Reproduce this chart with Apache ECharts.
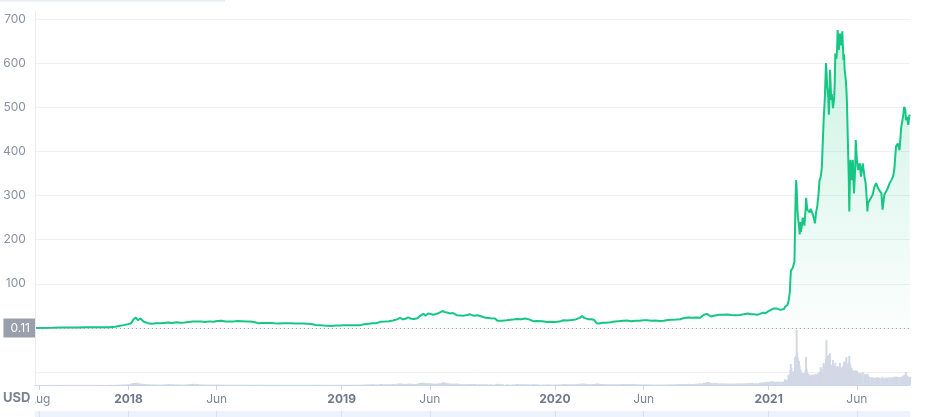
<!DOCTYPE html>
<html>
<head>
<meta charset="utf-8">
<script src="https://cdn.jsdelivr.net/npm/echarts@6/dist/echarts.min.js"></script>
<style>
html,body{margin:0;padding:0;background:#fff;}
#chart{width:930px;height:417px;}
</style>
</head>
<body>
<div id="chart"></div>
<script>
// ---- data ----
const dates = [
  '2017-07-25','2017-08-08','2017-08-22','2017-09-05','2017-09-19','2017-10-03','2017-10-17','2017-10-31','2017-11-14','2017-11-28','2017-12-08','2017-12-16','2017-12-22','2017-12-29',
  '2018-01-04','2018-01-08','2018-01-12','2018-01-16','2018-01-20','2018-01-26',
  '2018-02-02','2018-02-09','2018-02-16','2018-02-23',
  '2018-03-02','2018-03-09','2018-03-16','2018-03-23','2018-03-30',
  '2018-04-06','2018-04-13','2018-04-20','2018-04-27',
  '2018-05-04','2018-05-11','2018-05-18','2018-05-25',
  '2018-06-01','2018-06-08','2018-06-15','2018-06-22','2018-06-29',
  '2018-07-06','2018-07-13','2018-07-20','2018-07-27',
  '2018-08-03','2018-08-10','2018-08-17','2018-08-24','2018-08-31',
  '2018-09-07','2018-09-14','2018-09-21','2018-09-28',
  '2018-10-05','2018-10-12','2018-10-19','2018-10-26',
  '2018-11-02','2018-11-09','2018-11-16','2018-11-23','2018-11-30',
  '2018-12-07','2018-12-14','2018-12-21','2018-12-28',
  '2019-01-04','2019-01-11','2019-01-18','2019-01-25',
  '2019-02-01','2019-02-08','2019-02-15','2019-02-22',
  '2019-03-01','2019-03-08','2019-03-15','2019-03-22','2019-03-29',
  '2019-04-05','2019-04-10','2019-04-15','2019-04-19','2019-04-24','2019-04-29',
  '2019-05-04','2019-05-10','2019-05-14','2019-05-17','2019-05-20','2019-05-24','2019-05-28',
  '2019-06-01','2019-06-06','2019-06-11','2019-06-15','2019-06-18','2019-06-22','2019-06-26','2019-06-30',
  '2019-07-05','2019-07-10','2019-07-16','2019-07-22','2019-07-28',
  '2019-08-03','2019-08-08','2019-08-14','2019-08-21','2019-08-28',
  '2019-09-04','2019-09-12','2019-09-20','2019-09-24',
  '2019-10-01','2019-10-10','2019-10-20','2019-10-27',
  '2019-11-03','2019-11-10','2019-11-17','2019-11-24',
  '2019-12-01','2019-12-10','2019-12-18','2019-12-25',
  '2020-01-01','2020-01-08','2020-01-15','2020-01-22','2020-01-29',
  '2020-02-05','2020-02-12','2020-02-16','2020-02-20','2020-02-26',
  '2020-03-03','2020-03-08','2020-03-12','2020-03-16','2020-03-22','2020-03-29',
  '2020-04-05','2020-04-12','2020-04-19','2020-04-26',
  '2020-05-03','2020-05-10','2020-05-17','2020-05-24','2020-05-31',
  '2020-06-07','2020-06-14','2020-06-21','2020-06-28',
  '2020-07-05','2020-07-12','2020-07-19','2020-07-26',
  '2020-08-02','2020-08-09','2020-08-16','2020-08-23','2020-08-30',
  '2020-09-05','2020-09-12','2020-09-17','2020-09-20','2020-09-24',
  '2020-10-01','2020-10-08','2020-10-15','2020-10-22','2020-10-29',
  '2020-11-05','2020-11-12','2020-11-19','2020-11-26',
  '2020-12-01','2020-12-06','2020-12-12','2020-12-17','2020-12-22','2020-12-26','2020-12-30',
  '2021-01-03','2021-01-06','2021-01-09','2021-01-12','2021-01-15','2021-01-18','2021-01-21','2021-01-24','2021-01-27','2021-01-29','2021-01-31',
  '2021-02-02','2021-02-04','2021-02-06','2021-02-07','2021-02-08','2021-02-09','2021-02-11','2021-02-13','2021-02-14','2021-02-15','2021-02-16','2021-02-17','2021-02-18','2021-02-19','2021-02-20','2021-02-21','2021-02-22','2021-02-23','2021-02-24','2021-02-25','2021-02-27','2021-02-28',
  '2021-03-02','2021-03-03','2021-03-05','2021-03-06','2021-03-07','2021-03-08','2021-03-10','2021-03-12','2021-03-14','2021-03-16','2021-03-18','2021-03-20','2021-03-21','2021-03-23','2021-03-25','2021-03-27','2021-03-29','2021-03-31',
  '2021-04-02','2021-04-03','2021-04-05','2021-04-07','2021-04-09','2021-04-10','2021-04-11','2021-04-13','2021-04-14','2021-04-16','2021-04-18','2021-04-19','2021-04-21','2021-04-23','2021-04-24','2021-04-25','2021-04-27','2021-04-28','2021-04-29',
  '2021-05-01','2021-05-03','2021-05-05','2021-05-07','2021-05-09','2021-05-10','2021-05-11','2021-05-13','2021-05-14','2021-05-15','2021-05-17','2021-05-18','2021-05-19','2021-05-20','2021-05-21','2021-05-23','2021-05-25','2021-05-27','2021-05-29','2021-05-30',
  '2021-06-01','2021-06-03','2021-06-06','2021-06-08','2021-06-11','2021-06-14','2021-06-16','2021-06-18','2021-06-19','2021-06-20','2021-06-23','2021-06-26','2021-06-28',
  '2021-07-01','2021-07-04','2021-07-07','2021-07-10','2021-07-13','2021-07-15','2021-07-18','2021-07-21','2021-07-24','2021-07-27','2021-07-30',
  '2021-08-02','2021-08-04','2021-08-07','2021-08-10','2021-08-13','2021-08-16','2021-08-19','2021-08-21','2021-08-23','2021-08-24','2021-08-26','2021-08-28','2021-08-30','2021-08-31'
];

const prices = [
  0.11,0.17,0.35,1.2,1.0,1.3,1.5,1.6,1.9,1.8,2.8,5.0,6.5,8.5,
  10.5,19.0,24.0,17.5,21.5,14.0,
  11.0,9.5,11.0,10.5,
  11.5,12.5,11.5,13.0,12.0,
  12.5,13.5,14.5,15.0,
  14.5,13.5,15.0,14.0,
  16.0,16.5,14.5,15.0,15.0,
  16.0,15.5,15.0,14.5,
  13.5,11.0,11.5,11.5,11.5,
  10.5,10.0,10.5,10.5,
  10.5,10.0,10.0,10.0,
  9.5,9.0,7.0,6.5,5.5,
  5.0,4.5,5.5,5.5,
  6.0,6.0,6.0,6.5,
  6.5,8.5,9.5,10.5,
  11.0,14.0,14.5,15.5,17.0,
  19.5,23.0,19.5,21.0,24.0,21.0,
  20.5,22.0,27.0,31.0,32.0,28.0,33.0,
  32.0,30.0,32.0,33.5,34.0,38.5,36.0,35.0,
  33.0,34.0,29.0,28.5,28.0,
  29.5,31.0,28.0,29.0,26.0,
  23.0,22.0,21.5,16.5,
  16.5,17.5,19.0,20.5,
  20.0,21.5,19.5,15.5,
  16.0,15.5,13.5,14.0,
  13.8,14.5,17.5,17.0,18.0,
  19.5,23.0,27.0,23.0,20.0,
  20.0,18.0,11.0,10.0,12.0,12.0,
  13.0,14.5,15.5,16.5,
  17.0,15.5,16.5,16.5,17.5,
  17.5,16.5,17.0,16.0,
  16.5,18.0,18.5,19.0,
  20.0,22.5,24.0,23.0,24.0,
  23.0,30.0,32.0,28.0,26.0,
  28.5,30.0,30.0,30.5,29.5,
  29.0,29.5,31.0,33.0,
  31.0,31.0,30.0,32.0,35.0,33.0,37.0,
  40,43,44,40,44,46,41,44,43,48,47,
  52,62,80,110,130,128,136,139,150,230,300,335,310,270,250,240,228,212,240,218,235,250,
  240,232,268,295,280,268,272,262,270,268,255,245,237,262,275,300,335,342,
  365,403,471,520,600,580,547,522,483,585,517,530,498,520,554,622,610,630,675,
  630,667,640,672,607,620,585,562,540,509,396,343,264,330,381,335,381,305,360,426,
  381,358,373,343,373,343,328,290,264,283,290,287,302,
  320,328,317,313,305,268,302,309,317,328,335,
  343,358,411,418,403,456,478,501,494,471,478,460,483,480
];

// trading volume, billions USD
const volumes = [
  0.01,0.01,0.02,0.03,0.02,0.02,0.02,0.03,0.03,0.04,0.06,0.1,0.15,0.2,
  0.35,0.6,0.7,0.5,0.4,0.3,
  0.25,0.2,0.15,0.12,
  0.2,0.3,0.25,0.2,0.15,
  0.15,0.25,0.35,0.3,
  0.2,0.15,0.12,0.1,
  0.15,0.12,0.1,0.08,0.08,
  0.1,0.08,0.08,0.07,
  0.07,0.08,0.07,0.06,0.06,
  0.06,0.05,0.05,0.05,
  0.05,0.05,0.04,0.04,
  0.05,0.05,0.07,0.08,0.06,
  0.05,0.05,0.06,0.06,
  0.08,0.07,0.07,0.08,
  0.1,0.15,0.2,0.25,
  0.2,0.3,0.25,0.25,0.3,
  0.4,0.5,0.35,0.3,0.45,0.35,
  0.3,0.35,0.6,0.7,0.55,0.5,0.55,
  0.5,0.4,0.4,0.45,0.5,0.8,0.65,0.5,
  0.4,0.4,0.45,0.3,0.25,
  0.3,0.3,0.3,0.25,0.25,
  0.25,0.2,0.2,0.35,
  0.25,0.2,0.2,0.3,
  0.25,0.25,0.2,0.25,
  0.2,0.15,0.2,0.15,
  0.15,0.2,0.3,0.25,0.25,
  0.3,0.35,0.45,0.35,0.3,
  0.25,0.3,0.45,0.35,0.3,0.25,
  0.25,0.25,0.25,0.3,
  0.3,0.35,0.25,0.2,0.2,
  0.2,0.15,0.15,0.15,
  0.15,0.2,0.2,0.25,
  0.3,0.3,0.35,0.3,0.4,
  0.5,0.7,0.9,0.7,0.6,
  0.6,0.5,0.5,0.45,0.45,
  0.5,0.5,0.55,0.6,
  0.6,0.5,0.5,0.7,0.8,0.9,1.0,
  1.0,1.2,1.1,1.0,1.0,1.1,1.0,1.0,1.1,1.8,1.3,
  1.6,3.1,2.8,4.5,6.5,5.2,3.8,4.3,3.5,8.6,6.0,9.0,17.0,10.0,8.3,5.5,7.4,6.0,4.8,4.6,3.5,3.7,
  3.7,3.0,4.5,8.6,5.0,4.0,3.4,3.1,3.0,3.2,3.0,3.1,3.4,3.0,3.4,3.6,4.0,5.5,
  4.5,5.0,6.8,6.0,8.0,13.8,7.5,9.2,6.5,9.8,6.2,5.5,7.7,6.0,5.8,6.8,5.5,5.0,5.8,
  5.5,6.8,5.0,5.5,6.2,7.1,6.0,7.5,8.6,6.5,6.2,7.0,9.0,6.8,6.0,5.2,4.6,4.2,4.5,4.0,
  4.4,3.8,3.7,3.5,4.0,3.4,3.1,3.5,3.2,3.0,2.5,2.4,2.3,
  2.2,2.3,2.4,2.2,2.1,2.5,2.2,2.3,2.2,2.4,2.3,
  2.4,2.5,2.6,2.5,2.4,2.5,2.8,3.0,3.2,4.0,3.0,2.6,2.5,2.4
];

const axisStart = '2017-07-25';
const axisEnd = '2021-08-31';
const tickDates  = ['2017-08-01','2018-01-01','2018-06-01','2019-01-01','2019-06-01','2020-01-01','2020-06-01','2021-01-01','2021-06-01'];
const tickLabels = ['Aug','2018','Jun','2019','Jun','2020','Jun','2021','Jun'];
const priceTicks = [0, 100, 200, 300, 400, 500, 600, 700];
const denseFrom = '2021-01-01';

// ---- build ----
const ts = s => new Date(s + 'T00:00:00').getTime();
const xMin = ts(axisStart), xMax = ts(axisEnd);
const tickVals = tickDates.map(ts);
const labelMap = {};
tickVals.forEach((v, i) => { labelMap[v] = tickLabels[i]; });

const pricePts = dates.map((d, i) => [ts(d), prices[i]]);
const volOld = [], volNew = [];
dates.forEach((d, i) => { (d < denseFrom ? volOld : volNew).push([ts(d), volumes[i]]); });

const FONT = 'Inter, "Noto Sans", sans-serif';
const GREEN = '#16c784';
const GRID_LINE = '#eef0f4';

const chart = echarts.init(document.getElementById('chart'), null, {renderer: 'canvas'});
chart.setOption({
  animation: false,
  backgroundColor: '#ffffff',
  textStyle: {fontFamily: FONT},
  grid: [
    {left: 35, right: 20, top: 19, height: 309},
    {left: 35, right: 20, top: 372, height: 13},
    {left: 35, right: 20, top: 411, height: 6, show: true, backgroundColor: '#eef2fd', borderWidth: 0}
  ],
  xAxis: [
    {type: 'value', gridIndex: 0, min: xMin, max: xMax, show: false, splitLine: {show: false}},
    {type: 'value', gridIndex: 1, min: xMin, max: xMax,
      axisLine: {show: true, lineStyle: {color: '#ccd6eb', width: 1}},
      axisTick: {show: true, length: 5, lineStyle: {color: '#ccd6eb'}, customValues: tickVals},
      splitLine: {show: false},
      axisLabel: {
        customValues: tickVals, margin: 8, fontSize: 12, fontFamily: FONT,
        formatter: v => {
          const t = labelMap[v];
          if (t === undefined) return '';
          return /^\d{4}$/.test(t) ? '{y|' + t + '}' : '{m|' + t + '}';
        },
        rich: {
          y: {fontWeight: 'bold', color: '#6f7789', fontSize: 12, fontFamily: FONT},
          m: {color: '#7d8597', fontSize: 12, fontFamily: FONT}
        }
      }
    },
    {type: 'value', gridIndex: 2, min: xMin, max: xMax,
      axisLine: {show: false},
      axisTick: {show: true, inside: true, length: 6, lineStyle: {color: '#dbe1f0'}, customValues: tickVals},
      axisLabel: {show: false},
      splitLine: {show: false}
    }
  ],
  yAxis: [
    {type: 'value', gridIndex: 0, min: priceTicks[0], max: priceTicks[priceTicks.length - 1], interval: priceTicks[1] - priceTicks[0],
      axisLine: {show: false}, axisTick: {show: false},
      splitLine: {show: true, lineStyle: {color: GRID_LINE, width: 1}},
      axisLabel: {color: '#8a91a2', fontSize: 12, margin: 10, showMinLabel: false, fontFamily: FONT}
    },
    {type: 'value', gridIndex: 1, min: 0, max: 4, interval: 4,
      axisLine: {show: false}, axisTick: {show: false}, axisLabel: {show: false},
      splitLine: {show: true, lineStyle: {color: GRID_LINE, width: 1}}
    },
    {type: 'value', gridIndex: 2, show: false, min: 0, max: 1}
  ],
  series: [
    {
      name: 'Volume', type: 'bar', xAxisIndex: 1, yAxisIndex: 1,
      data: volOld, barWidth: 4, barGap: '-100%', clip: false,
      itemStyle: {color: '#d2d8e5'}, silent: true
    },
    {
      name: 'Volume2021', type: 'bar', xAxisIndex: 1, yAxisIndex: 1,
      data: volNew, barWidth: 2, barGap: '-100%', clip: false,
      itemStyle: {color: '#d2d8e5'}, silent: true
    },
    {
      name: 'Price', type: 'line', xAxisIndex: 0, yAxisIndex: 0,
      data: pricePts, showSymbol: false, symbol: 'none',
      lineStyle: {color: GREEN, width: 2},
      areaStyle: {
        color: new echarts.graphic.LinearGradient(0, 0, 0, 1, [
          {offset: 0, color: 'rgba(22,199,132,0.32)'},
          {offset: 1, color: 'rgba(22,199,132,0.02)'}
        ])
      },
      z: 3,
      markLine: {
        silent: true, symbol: ['none', 'none'], animation: false,
        lineStyle: {color: '#9aa0ab', type: [1, 3], width: 1},
        label: {
          show: true, position: 'start', distance: 0,
          formatter: String(prices[0]),
          color: '#ffffff', backgroundColor: '#9aa0ab',
          padding: [4, 6, 3, 7], fontSize: 12, fontFamily: FONT
        },
        data: [{yAxis: prices[0]}]
      }
    }
  ],
  graphic: [
    {type: 'rect', shape: {x: 0, y: 0, width: 225, height: 1.5}, style: {fill: '#e8ebf0'}, z: 100},
    {type: 'line', shape: {x1: 35.5, y1: 11, x2: 35.5, y2: 385}, style: {stroke: '#e9ecf1', lineWidth: 1}, z: 100},
    {type: 'rect', shape: {x: 29, y: 388, width: 6.5, height: 17}, style: {fill: '#ffffff'}, z: 100},
    {type: 'text', x: 3, y: 398, style: {text: 'USD', font: 'bold 13px ' + FONT, fill: '#7a8293', textVerticalAlign: 'middle'}, z: 100}
  ]
});
</script>
</body>
</html>
